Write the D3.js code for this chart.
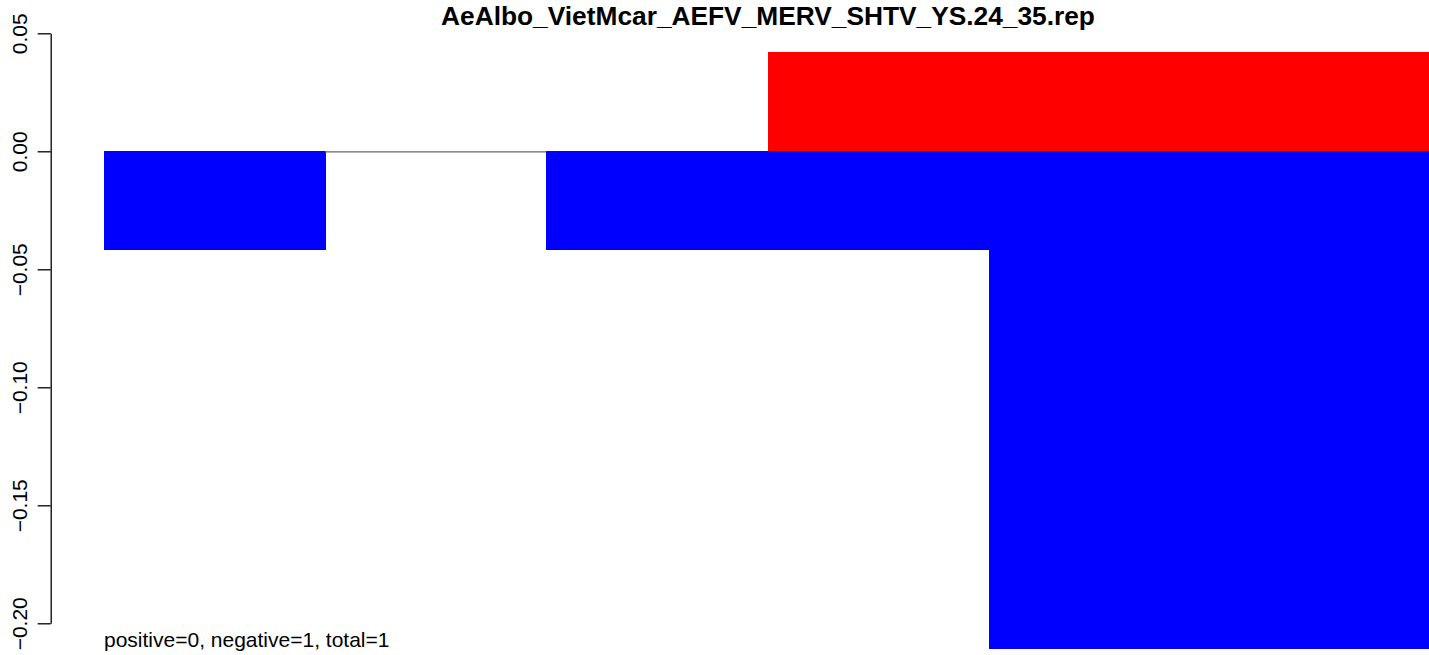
<!DOCTYPE html>
<html>
<head>
<meta charset="utf-8">
<script src="https://cdn.jsdelivr.net/npm/d3@7"></script>
<style>
  html, body { margin: 0; padding: 0; background: #fff; }
  svg { display: block; font-family: "Liberation Sans", Arial, Helvetica, sans-serif; }
</style>
</head>
<body>
<svg id="chart" width="1429" height="655"></svg>
<script>
const title = "AeAlbo_VietMcar_AEFV_MERV_SHTV_YS.24_35.rep";
const categories = ["1", "2", "3", "4", "5", "6"];
const positiveValues = [0, 0, 0, 0.042, 0.042, 0.042];
const negativeValues = [-0.042, 0, -0.042, -0.042, -0.211, -0.211];
const yTicks = [0.05, 0.00, -0.05, -0.10, -0.15, -0.20];
const footnote = "positive=0, negative=1, total=1";

const svg = d3.select("#chart");

const x = d3.scaleBand().domain(categories).range([104, 1431]).padding(0);
const y = d3.scaleLinear().domain([-0.20, 0.05]).range([623.3, 33.3]);

// positive bars
svg.append("g").attr("shape-rendering", "crispEdges").selectAll("rect")
  .data(categories.map((c, i) => ({c, v: positiveValues[i]})).filter(d => d.v > 0))
  .join("rect")
  .attr("x", d => x(d.c))
  .attr("width", x.bandwidth() + 1)
  .attr("y", d => y(d.v))
  .attr("height", d => y(0) - y(d.v))
  .attr("fill", "#ff0000");

// negative bars
svg.append("g").attr("shape-rendering", "crispEdges").selectAll("rect")
  .data(categories.map((c, i) => ({c, v: negativeValues[i]})).filter(d => d.v < 0))
  .join("rect")
  .attr("x", d => x(d.c))
  .attr("width", x.bandwidth() + 1)
  .attr("y", y(0))
  .attr("height", d => y(d.v) - y(0))
  .attr("fill", "#0000ff");

// zero-height bars drawn as a line
svg.append("g").selectAll("line")
  .data(categories.filter((c, i) => positiveValues[i] === 0 && negativeValues[i] === 0))
  .join("line")
  .attr("x1", d => x(d))
  .attr("x2", d => x(d) + x.bandwidth())
  .attr("y1", y(0) + 0.5)
  .attr("y2", y(0) + 0.5)
  .attr("stroke", "#666")
  .attr("stroke-width", 1.2);

// y axis
const fmt = d3.format(".2f");
const axis = d3.axisLeft(y).tickValues(yTicks).tickSize(13).tickSizeOuter(0).tickFormat(fmt);
const gAxis = svg.append("g").attr("transform", "translate(50.7,0)").call(axis);
gAxis.select(".domain").attr("stroke", "#000").attr("stroke-width", 1.3);
gAxis.selectAll(".tick line").attr("stroke", "#000").attr("stroke-width", 1.3);
gAxis.selectAll(".tick text")
  .attr("x", null).attr("dy", null)
  .attr("text-anchor", "middle")
  .attr("font-size", 21)
  .attr("font-family", "Liberation Sans, Arial, sans-serif")
  .attr("fill", "#000")
  .attr("transform", "translate(-24,0) rotate(-90)");

// title
svg.append("text")
  .attr("x", 768).attr("y", 25)
  .attr("text-anchor", "middle")
  .attr("font-weight", "bold")
  .attr("font-size", 26.3)
  .text(title);

// footnote
svg.append("text")
  .attr("x", 104).attr("y", 647)
  .attr("font-size", 21)
  .text(footnote);
</script>
</body>
</html>
